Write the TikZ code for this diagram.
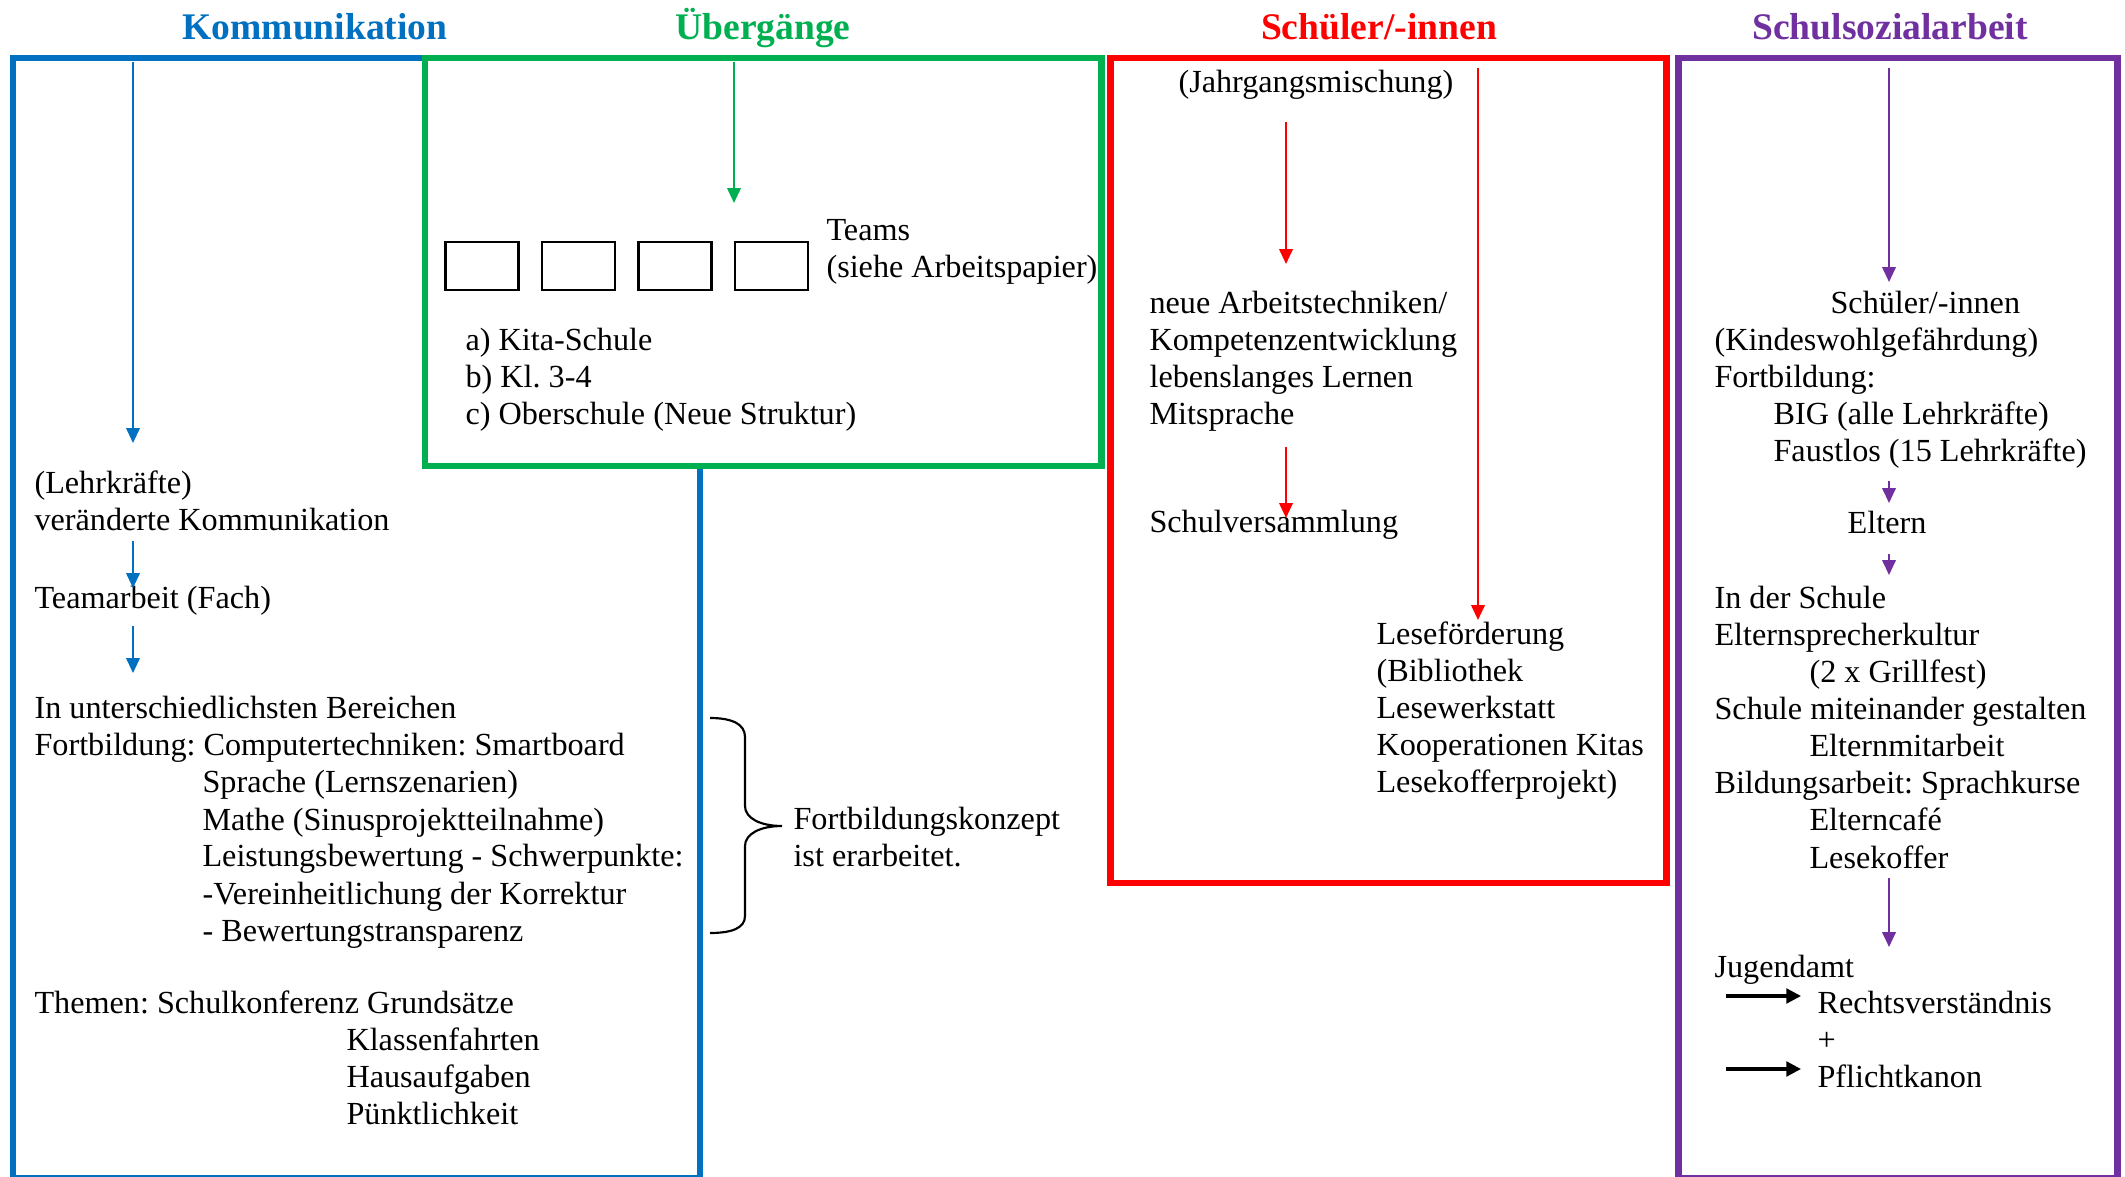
\documentclass[tikz,border=0pt]{standalone}
\usepackage{fontspec}
\setmainfont{Liberation Serif}
\usepackage{tikz}
\usetikzlibrary{arrows.meta,positioning}
\definecolor{kblue}{HTML}{0070C0}
\definecolor{ugreen}{HTML}{00B050}
\definecolor{sred}{HTML}{FF0000}
\definecolor{spurple}{HTML}{7030A0}
\frenchspacing
\tikzset{
	frame/.style = {line width = 2.6pt},
	title/.style = {anchor = base, inner sep = 0mm, font = \fontsize{14}{16}\selectfont\bfseries},
	txt/.style = {anchor = base west, inner sep = 0mm, font = \fontsize{12}{13.8}\selectfont\frenchspacing},
	flow/.style = {-{Triangle[length = 5.5pt, width = 5pt]}, line width = 0.7pt},
	bold flow/.style = {-{Triangle[length = 5.5pt, width = 5.5pt]}, line width = 1.2pt, draw = black},
	team/.style = {draw, line width = 0.8pt, minimum width = 27.2pt, minimum height = 17.9pt, inner sep = 0mm}
}
\begin{document}
\begin{tikzpicture}[x = 0.3727pt, y = -0.3727pt]
			\useasboundingbox (0, 0) rectangle (2125, 1177);

			% titles
			\node [title, text = kblue] (tK) at (315, 40) {Kommunikation};
			\node [title, text = ugreen] (tU) at (763, 40) {Übergänge};
			\node [title, text = sred] (tS) at (1379, 40) {Schüler/-innen};
			\node [title, text = spurple] (tP) at (1890, 40) {Schulsozialarbeit};

			% frames
			\draw [frame, kblue] (13, 58) rectangle (700, 1178);
			\draw [frame, ugreen, fill = white] (425, 58) rectangle (1101, 466);
			\draw [frame, sred] (1110, 58) rectangle (1666, 883);
			\draw [frame, spurple] (1678, 58) rectangle (2117, 1178);

			% Kommunikation
			\foreach\t [count = \i from 0] in {{(Lehrkräfte)}, veränderte Kommunikation}{
				\node [txt] (l\i) at (34, 494 + 37*\i) {\t};
			}
			\node [txt] (team) at (34, 609) {Teamarbeit (Fach)};
			\node [txt] (f0) at (34, 719) {In unterschiedlichsten Bereichen};
			\node [txt] (f1) at (34, 756) {Fortbildung: Computertechniken: Smartboard};
			\foreach\t [count = \i from 2] in {{Sprache (Lernszenarien)}, {Mathe (Sinusprojektteilnahme)},
				Leistungsbewertung - Schwerpunkte:, -Vereinheitlichung der Korrektur, - Bewertungstransparenz}{
				\node [txt] (f\i) at (202, 719 + 37*\i) {\t};
			}
			\node [txt] (th0) at (34, 1013) {Themen: Schulkonferenz Grundsätze};
			\foreach\t [count = \i] in {Klassenfahrten, Hausaufgaben, Pünktlichkeit}{
				\node [txt] (th\i) at (346, 1013 + 37*\i) {\t};
			}

			\coordinate (k0) at (133, 62);
			\coordinate (k1) at (133, 443);
			\coordinate (k2) at (133, 541);
			\coordinate (k3) at (133, 588);
			\coordinate (k4) at (133, 626);
			\coordinate (k5) at (133, 673);
			\draw [flow, kblue] (k0) -- (k1);
			\draw [flow, kblue] (k2) -- (k3);
			\draw [flow, kblue] (k4) -- (k5);

			% brace
			\node [txt] (konz0) at (793, 829) {Fortbildungskonzept};
			\node [txt] (konz1) at (793, 866) {ist erarbeitet.};
			\draw [line width = 0.8pt] (710, 718) .. controls (732, 718) and (745, 724) .. (745, 737)
				-- (745, 806) .. controls (745, 818) and (760, 826) .. (782, 826)
				.. controls (760, 826) and (745, 834) .. (745, 846)
				-- (745, 916) .. controls (745, 928) and (732, 933) .. (710, 933);

			% Uebergaenge
			\coordinate (u0) at (734, 62);
			\coordinate (u1) at (734, 203);
			\draw [flow, ugreen] (u0) -- (u1);
			\foreach\i in {0,...,3}{
				\node [team] (t\i) at (482 + 96.5*\i, 266) {};
			}
			\node [txt] (teams0) at (826, 241) {Teams};
			\node [txt] (teams1) at (826, 278) {(siehe Arbeitspapier)};
			\foreach\t [count = \i from 0] in {{a) Kita-Schule}, {b) Kl. 3-4}, {c) Oberschule (Neue Struktur)}}{
				\node [txt] (ab\i) at (465, 351 + 37*\i) {\t};
			}

			% Schueler/-innen
			\node [txt] (jahr) at (1178, 93) {(Jahrgangsmischung)};
			\foreach\t [count = \i from 0] in {neue Arbeitstechniken/, Kompetenzentwicklung, lebenslanges Lernen, Mitsprache}{
				\node [txt] (ne\i) at (1149, 314 + 37*\i) {\t};
			}
			\node [txt] (vers) at (1149, 533) {Schulversammlung};
			\foreach\t [count = \i from 0] in {Leseförderung, {(Bibliothek}, Lesewerkstatt, Kooperationen Kitas, {Lesekofferprojekt)}}{
				\node [txt] (le\i) at (1376, 645 + 37*\i) {\t};
			}

			\coordinate (s0) at (1286, 122);
			\coordinate (s1) at (1286, 264);
			\coordinate (s2) at (1286, 447);
			\coordinate (s3) at (1286, 518);
			\coordinate (s4) at (1478, 68);
			\coordinate (s5) at (1478, 620);
			\draw [flow, sred] (s0) -- (s1);
			\draw [flow, sred] (s2) -- (s3);
			\draw [flow, sred] (s4) -- (s5);

			% Schulsozialarbeit
			\node [txt] (sch0) at (1830, 314) {Schüler/-innen};
			\foreach\x/\t [count = \i from 1] in {1714/{(Kindeswohlgefährdung)}, 1714/Fortbildung:,
				1773/{BIG (alle Lehrkräfte)}, 1773/{Faustlos (15 Lehrkräfte)}}{
				\node [txt] (sch\i) at (\x, 314 + 37*\i) {\t};
			}
			\node [title, font = \fontsize{12}{13.8}\selectfont] (eltern) at (1887, 534) {Eltern};
			\foreach\x/\t [count = \i from 0] in {1714/In der Schule, 1714/Elternsprecherkultur, 1809/{(2 x Grillfest)},
				1714/Schule miteinander gestalten, 1809/Elternmitarbeit, 1714/Bildungsarbeit: Sprachkurse,
				1809/Elterncafé, 1809/Lesekoffer}{
				\node [txt] (el\i) at (\x, 609 + 37*\i) {\t};
			}
			\node [txt] (jug0) at (1714, 977) {Jugendamt};
			\foreach\t [count = \i] in {Rechtsverständnis, +, Pflichtkanon}{
				\node [txt] (jug\i) at (1817, 977 + 36.7*\i) {\t};
			}

			\coordinate (p0) at (1889, 68);
			\coordinate (p1) at (1889, 282);
			\coordinate (p2) at (1889, 481);
			\coordinate (p3) at (1889, 503);
			\coordinate (p4) at (1889, 554);
			\coordinate (p5) at (1889, 575);
			\coordinate (p6) at (1889, 878);
			\coordinate (p7) at (1889, 947);
			\foreach\a/\b in {p0/p1, p2/p3, p4/p5, p6/p7}{
				\draw [flow, spurple] (\a) -- (\b);
			}
			\coordinate (j0) at (1726, 996);
			\coordinate (j1) at (1801, 996);
			\coordinate (j2) at (1726, 1069);
			\coordinate (j3) at (1801, 1069);
			\draw [bold flow] (j0) -- (j1);
			\draw [bold flow] (j2) -- (j3);
		\end{tikzpicture}
\end{document}
